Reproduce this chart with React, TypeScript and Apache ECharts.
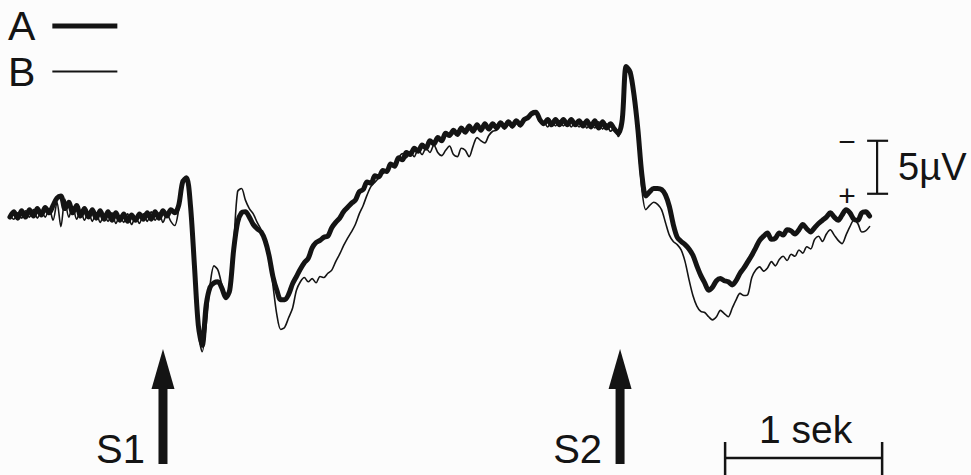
import React, { useEffect, useRef } from "react";
import * as echarts from "echarts";

// Evoked potential traces, sampled every 25 ms starting 0.975 s before S1.
const SAMPLE_START = -0.975; // seconds relative to stimulus S1
const SAMPLE_STEP = 0.025; // seconds

// Trace A (thick), µV, negative = up
const traceA: number[] = [
  0.2, -0.3, 0.3, -0.4, 0.2, -0.5, 0.1, -0.6, 0.0, -0.7,
  -0.2, -0.9, -1.6, -1.8, -0.6, -1.2, -0.2, -0.9, 0.1, -0.6,
  0.2, -0.5, 0.3, -0.4, 0.4, -0.3, 0.5, -0.2, 0.5, -0.1,
  0.6, 0.0, 0.5, -0.1, 0.4, -0.2, 0.4, -0.3, 0.3, -0.4,
  0.1, -0.5, -0.2, -0.9, -3.1, -3.5, -0.9, 4.7, 10.4, 12.3,
  8.5, 6.8, 6.4, 6.3, 6.9, 7.8, 7.1, 3.3, 0.7, -0.2,
  -0.3, 0.2, 0.9, 1.3, 1.6, 2.4, 3.8, 5.8, 7.1, 8.0,
  8.0, 7.5, 6.5, 5.8, 5.1, 4.5, 4.1, 3.1, 2.6, 2.4,
  2.1, 2.0, 1.2, 0.7, 0.3, -0.3, -0.7, -1.1, -1.4, -2.2,
  -2.4, -3.1, -3.0, -3.7, -3.6, -4.2, -4.1, -4.8, -4.6, -5.4,
  -5.2, -5.9, -5.7, -6.3, -6.0, -6.6, -6.3, -7.0, -6.7, -7.3,
  -7.0, -7.7, -7.5, -8.0, -7.6, -8.2, -7.8, -8.4, -7.9, -8.5,
  -8.0, -8.6, -8.1, -8.6, -8.2, -8.7, -8.3, -8.8, -8.4, -8.9,
  -8.5, -9.0, -9.2, -9.6, -9.7, -9.0, -8.6, -9.0, -8.5, -9.0,
  -8.5, -9.0, -8.5, -9.0, -8.5, -8.9, -8.4, -8.9, -8.3, -8.9,
  -8.2, -8.8, -8.2, -8.6, -8.1, -7.7, -9.0, -14.0, -13.5, -11.3,
  -8.0, -3.8, -1.8, -2.2, -2.5, -2.5, -2.4, -1.9, -0.8, 0.9,
  2.1, 2.5, 2.8, 3.2, 3.8, 4.8, 5.7, 6.4, 7.1, 6.8,
  6.2, 6.0, 6.2, 6.3, 6.6, 6.2, 5.5, 5.0, 4.4, 3.8,
  3.1, 2.4, 2.0, 1.7, 2.3, 2.2, 1.7, 1.9, 1.4, 1.5,
  1.8, 1.4, 0.9, 1.3, 1.6, 1.2, 0.8, 0.5, 0.2, -0.2,
  0.2, 0.5, 0.0, -0.5, -0.2, 0.4, 0.5, -0.2, -0.3, 0.1,
];

// Trace B (thin), µV
const traceB: number[] = [
  0.0, 0.4, -0.2, 0.3, -0.4, 0.2, -0.5, 0.3, -0.3, 0.2,
  -0.6, 0.5, -1.2, 1.1, -1.5, 0.2, -0.8, 0.4, -0.4, 0.5,
  -0.3, 0.6, -0.2, 0.7, 0.0, 0.6, -0.2, 0.8, 0.1, 0.7,
  -0.1, 0.9, 0.2, 0.8, -0.1, 0.6, -0.3, 0.5, -0.2, 0.7,
  -0.1, 0.6, 1.0, -0.5, -3.0, -3.4, -0.6, 5.0, 10.8, 12.9,
  10.4, 6.6, 4.8, 5.2, 6.6, 7.8, 6.6, 2.8, -2.2, -2.5,
  -1.4, -0.6, -0.1, 0.7, 1.4, 2.4, 3.8, 6.6, 9.4, 10.8,
  10.6, 9.7, 8.8, 7.1, 6.3, 5.9, 6.3, 6.0, 6.4, 5.8,
  5.9, 5.5, 5.2, 4.4, 3.7, 2.9, 2.2, 1.6, 0.9, -0.1,
  -0.9, -1.9, -2.7, -3.1, -3.5, -3.9, -4.2, -4.7, -4.9, -5.4,
  -5.8, -5.4, -6.0, -5.5, -6.2, -5.7, -6.3, -5.9, -6.6, -5.9,
  -5.6, -6.1, -6.5, -5.7, -5.5, -6.3, -6.1, -5.5, -6.5, -7.3,
  -7.0, -6.8, -7.5, -7.9, -8.0, -8.5, -8.1, -8.6, -8.2, -8.8,
  -8.3, -8.9, -9.1, -9.4, -9.5, -8.8, -8.8, -8.3, -8.8, -8.4,
  -8.9, -8.4, -8.8, -8.3, -8.8, -8.3, -8.8, -8.2, -8.7, -8.2,
  -8.8, -8.1, -8.6, -7.9, -8.2, -7.4, -8.9, -13.6, -13.3, -10.8,
  -7.1, -2.4, -0.5, -0.9, -1.2, -1.0, -0.5, 0.7, 1.9, 2.5,
  2.8, 3.3, 4.4, 6.1, 7.6, 8.6, 9.1, 9.2, 9.6, 9.9,
  9.6, 9.0, 9.3, 9.6, 8.8, 8.0, 7.4, 7.6, 7.5, 5.9,
  5.2, 4.9, 5.3, 5.0, 4.4, 4.8, 4.2, 3.9, 4.3, 3.7,
  3.9, 3.3, 3.6, 3.0, 3.2, 2.3, 2.0, 2.5, 1.8, 1.4,
  1.9, 2.4, 2.7, 1.9, 1.1, 0.5, 0.8, 1.6, 1.5, 1.1,
];

const stimuli = [
  { label: "S1", time: 0 },
  { label: "S2", time: 2.911 },
];
const timeBar = { start: 3.58, length: 1, label: "1 sek" };
const voltBar = { time: 4.548, top: -7, length: 5, label: "5\u00b5V" };

const X_MIN = -1.038;
const X_MAX = 5.146;
const Y_MIN = -20.28;
const Y_MAX = 24.53;

const INK = "#141414";
const FONT = "'Liberation Sans', Arial, sans-serif";

const toPairs = (vals: number[]) =>
  vals.map((v, i) => [+(SAMPLE_START + i * SAMPLE_STEP).toFixed(3), v]);

export default function App() {
  const ref = useRef<HTMLDivElement>(null);
  useEffect(() => {
    if (!ref.current) return;
    const chart = echarts.init(ref.current, null, { renderer: "svg" });
    const legendBase = {
      left: 8,
      orient: "vertical",
      align: "right",
      icon: "rect",
      itemWidth: 65,
      padding: 0,
      itemStyle: { borderWidth: 0 },
      textStyle: {
        fontSize: 41,
        fontFamily: FONT,
        color: INK,
        padding: [0, 12, 0, 0],
      },
      selectedMode: false,
    };
    chart.setOption({
      animation: false,
      backgroundColor: "#fcfcfc",
      grid: { left: 0, right: 0, top: 0, bottom: 0 },
      xAxis: { type: "value", min: X_MIN, max: X_MAX, show: false },
      yAxis: { type: "value", min: Y_MIN, max: Y_MAX, inverse: true, show: false },
      legend: [
        { ...legendBase, data: ["A"], top: 5.5, itemHeight: 5 },
        { ...legendBase, data: ["B"], top: 51, itemHeight: 2 },
      ],
      series: [
        {
          name: "A",
          type: "line",
          data: toPairs(traceA),
          symbol: "none",
          smooth: 0.3,
          lineStyle: { width: 5, color: INK, cap: "round", join: "round" },
          itemStyle: { color: INK },
          z: 2,
        },
        {
          name: "B",
          type: "line",
          data: toPairs(traceB),
          symbol: "none",
          smooth: 0.3,
          lineStyle: { width: 1.6, color: INK, cap: "round", join: "round" },
          itemStyle: { color: INK },
          z: 3,
        },
      ],
    });

    const px = (t: number, v: number) =>
      chart.convertToPixel({ gridIndex: 0 }, [t, v]) as number[];

    const textStyle = (text: string, size: number, align: string) => ({
      text,
      fill: INK,
      fontSize: size,
      fontFamily: FONT,
      align,
      textAlign: align,
      verticalAlign: "middle",
      textVerticalAlign: "middle",
    });

    const elements: any[] = [];
    stimuli.forEach((s) => {
      const [sx] = px(s.time, 0);
      elements.push({
        type: "polygon",
        shape: { points: [[sx, 349], [sx - 11.5, 389], [sx + 11.5, 389]] },
        style: { fill: INK },
      });
      elements.push({
        type: "rect",
        shape: { x: sx - 4.5, y: 385, width: 9, height: 79 },
        style: { fill: INK },
      });
      elements.push({
        type: "text",
        x: sx - 18,
        y: 449,
        style: textStyle(s.label, 40, "right"),
      });
    });

    const [tx1] = px(timeBar.start, 0);
    const [tx2] = px(timeBar.start + timeBar.length, 0);
    elements.push({
      type: "line",
      shape: { x1: tx1, y1: 458, x2: tx2, y2: 458 },
      style: { stroke: INK, lineWidth: 2.5 },
    });
    [tx1, tx2].forEach((x) =>
      elements.push({
        type: "line",
        shape: { x1: x, y1: 442, x2: x, y2: 476 },
        style: { stroke: INK, lineWidth: 2.5 },
      })
    );
    elements.push({
      type: "text",
      x: (tx1 + tx2) / 2 + 2,
      y: 429,
      style: textStyle(timeBar.label, 39, "center"),
    });

    const [vx, vy1] = px(voltBar.time, voltBar.top);
    const [, vy2] = px(voltBar.time, voltBar.top + voltBar.length);
    elements.push({
      type: "line",
      shape: { x1: vx, y1: vy1, x2: vx, y2: vy2 },
      style: { stroke: INK, lineWidth: 2.2 },
    });
    [vy1, vy2].forEach((y) =>
      elements.push({
        type: "line",
        shape: { x1: vx - 10, y1: y, x2: vx + 11, y2: y },
        style: { stroke: INK, lineWidth: 2.2 },
      })
    );
    elements.push({ type: "text", x: vx - 30, y: vy1 + 1, style: textStyle("\u2212", 30, "center") });
    elements.push({ type: "text", x: vx - 30, y: vy2 + 2, style: textStyle("+", 30, "center") });
    elements.push({
      type: "text",
      x: vx + 21,
      y: (vy1 + vy2) / 2,
      style: textStyle(voltBar.label, 38, "left"),
    });

    chart.setOption({ graphic: { elements } });

    return () => chart.dispose();
  }, []);
  return (
    <div
      ref={ref}
      style={{ position: "fixed", left: 0, top: 0, width: 971, height: 475 }}
    />
  );
}
